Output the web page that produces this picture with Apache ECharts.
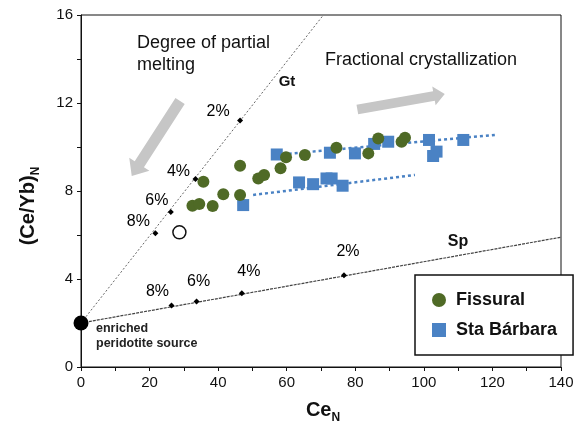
<!DOCTYPE html>
<html>
<head>
<meta charset="utf-8">
<script src="https://cdn.jsdelivr.net/npm/echarts@6/dist/echarts.min.js"></script>
<style>
html, body { margin: 0; padding: 0; background: #fff; }
#chart { width: 580px; height: 425px; }
</style>
</head>
<body>
<div id="chart"></div>
<script>
// Melting curves from the enriched peridotite source
const gtCurve = [[0, 2], [70.7, 16]];
const spCurve = [[0, 2], [140, 5.9]];
const gtMelting = [[46.4, 11.2], [33.4, 8.55], [26.2, 7.05], [21.7, 6.08]];
const spMelting = [[76.7, 4.17], [46.9, 3.35], [33.7, 2.98], [26.4, 2.8]];
const meltingLabels = ['2%', '4%', '6%', '8%'];
const sourcePoint = [[0, 2]];
const openPoint = [[28.7, 6.12]];

// Sample analyses (Ce_N, (Ce/Yb)_N)
const fissural = [
  [32.5, 7.33], [34.5, 7.41], [35.7, 8.42], [38.4, 7.32], [41.5, 7.85],
  [46.4, 7.82], [46.4, 9.15], [51.7, 8.57], [53.4, 8.73], [58.2, 9.03],
  [59.8, 9.53], [65.3, 9.64], [74.5, 9.97], [83.8, 9.71], [86.7, 10.39],
  [93.5, 10.24], [94.5, 10.42]
];
const staBarbara = [
  [57.1, 9.66], [72.6, 9.74], [79.9, 9.71], [85.5, 10.14], [89.6, 10.24],
  [101.5, 10.32], [111.5, 10.32], [103.7, 9.79], [102.7, 9.59],
  [47.3, 7.36], [63.6, 8.39], [67.7, 8.31], [71.6, 8.57], [73.1, 8.57], [76.3, 8.24]
];

// Fractionation trends of the Sta Bárbara groups
const trendUpper = [[57.1, 9.64], [120.7, 10.55]];
const trendLower = [[50.2, 7.82], [97.4, 8.73]];

// Process arrows (tail, tip) in data units
const arrowMelting = [[28.9, 12.09], [14.8, 8.68]];
const arrowFractional = [[80.6, 11.7], [106.1, 12.41]];

// Axis ticks
const xTicks = { min: 0, max: 140, step: 20 };
const yTicks = { min: 0, max: 16, step: 4 };

// Label placement around the melting-degree marks (pixels)
const gtLabelOffsets = [[-22, -9], [-17, -7], [-14, -11], [-17, -12]];
const spLabelOffsets = [[4, -24], [7, -22], [2, -20], [-14, -14]];

const FONT = '"Liberation Sans", Arial, sans-serif';
const GREEN = '#4f6a26';
const BLUE = '#4a82c4';

const chart = echarts.init(document.getElementById('chart'), null, { renderer: 'canvas' });

function markData(points, offsets) {
  return points.map((p, i) => ({
    value: p,
    label: { formatter: meltingLabels[i], offset: offsets[i] }
  }));
}

const markLabel = {
  show: true,
  position: 'inside',
  color: '#000',
  fontFamily: FONT,
  fontSize: 16
};

chart.setOption({
  animation: false,
  grid: {
    left: 81, right: 19, top: 15, bottom: 58,
    show: true, borderColor: '#111', borderWidth: 1, backgroundColor: 'transparent'
  },
  xAxis: {
    type: 'value', min: xTicks.min, max: xTicks.max, interval: xTicks.step,
    axisLine: { show: true, onZero: false, lineStyle: { color: '#111', width: 1 } },
    axisTick: { show: true, length: 4, lineStyle: { color: '#111' } },
    minorTick: { show: true, splitNumber: 2, length: 4, lineStyle: { color: '#111' } },
    splitLine: { show: false },
    axisLabel: { color: '#111', fontFamily: FONT, fontSize: 15, margin: 8 }
  },
  yAxis: {
    type: 'value', min: yTicks.min, max: yTicks.max, interval: yTicks.step,
    axisLine: { show: true, onZero: false, lineStyle: { color: '#111', width: 1 } },
    axisTick: { show: true, length: 4, lineStyle: { color: '#111' } },
    minorTick: { show: true, splitNumber: 2, length: 4, lineStyle: { color: '#111' } },
    splitLine: { show: false },
    axisLabel: { color: '#111', fontFamily: FONT, fontSize: 15, margin: 8 }
  },
  legend: {
    data: [
      { name: 'Fissural', icon: 'circle' },
      { name: 'Sta Bárbara', icon: 'rect' }
    ],
    orient: 'vertical',
    left: 415, top: 275,
    padding: [16, 16, 16, 17],
    itemWidth: 14, itemHeight: 14, itemGap: 12,
    borderColor: '#111', borderWidth: 1.5, backgroundColor: '#fff',
    textStyle: { color: '#111', fontFamily: FONT, fontSize: 18, fontWeight: 'bold', padding: [0, 0, 0, 5] }
  },
  series: [
    {
      name: 'Gt', type: 'line', data: gtCurve, symbol: 'none', silent: true, z: 1,
      lineStyle: { color: '#666', width: 1, type: [2, 2] }
    },
    {
      name: 'Sp', type: 'line', data: spCurve, symbol: 'none', silent: true, z: 1,
      lineStyle: { color: '#444', width: 1.2, type: [3, 1] }
    },
    {
      name: 'trendUpper', type: 'line', data: trendUpper, symbol: 'none', silent: true, z: 2,
      lineStyle: { color: BLUE, width: 2.5, type: [3, 3] }
    },
    {
      name: 'trendLower', type: 'line', data: trendLower, symbol: 'none', silent: true, z: 2,
      lineStyle: { color: BLUE, width: 2.5, type: [3, 3] }
    },
    {
      name: 'gtMarks', type: 'scatter', data: markData(gtMelting, gtLabelOffsets),
      symbol: 'diamond', symbolSize: 6, itemStyle: { color: '#000', opacity: 1 }, label: markLabel, z: 3
    },
    {
      name: 'spMarks', type: 'scatter', data: markData(spMelting, spLabelOffsets),
      symbol: 'diamond', symbolSize: 6, itemStyle: { color: '#000', opacity: 1 }, label: markLabel, z: 3
    },
    {
      name: 'Sta Bárbara', type: 'scatter', data: staBarbara,
      symbol: 'rect', symbolSize: 12, itemStyle: { color: BLUE, opacity: 1 }, z: 4
    },
    {
      name: 'Fissural', type: 'scatter', data: fissural,
      symbol: 'circle', symbolSize: 12, itemStyle: { color: GREEN, opacity: 1 }, z: 5
    },
    {
      name: 'source', type: 'scatter', data: sourcePoint, clip: false,
      symbol: 'circle', symbolSize: 15, itemStyle: { color: '#000', opacity: 1 }, z: 6
    },
    {
      name: 'open', type: 'scatter', data: openPoint,
      symbol: 'circle', symbolSize: 13,
      itemStyle: { color: '#fff', borderColor: '#111', borderWidth: 1.5, opacity: 1 }, z: 6
    }
  ]
});

// Thick process arrows, placed through the grid's coordinate system
function arrowShape(pair, bodyHalf, headHalf, headLen) {
  const s = chart.convertToPixel({ gridIndex: 0 }, pair[0]);
  const t = chart.convertToPixel({ gridIndex: 0 }, pair[1]);
  const dx = t[0] - s[0], dy = t[1] - s[1];
  const len = Math.sqrt(dx * dx + dy * dy);
  const ux = dx / len, uy = dy / len;
  const nx = -uy, ny = ux;
  const bx = t[0] - ux * headLen, by = t[1] - uy * headLen;
  return [
    [s[0] + nx * bodyHalf, s[1] + ny * bodyHalf],
    [bx + nx * bodyHalf, by + ny * bodyHalf],
    [bx + nx * headHalf, by + ny * headHalf],
    [t[0], t[1]],
    [bx - nx * headHalf, by - ny * headHalf],
    [bx - nx * bodyHalf, by - ny * bodyHalf],
    [s[0] - nx * bodyHalf, s[1] - ny * bodyHalf]
  ];
}

const textStyle = (extra) => Object.assign({ fill: '#111', font: '18px ' + FONT }, extra);

chart.setOption({
  graphic: [
    { type: 'polygon', z: 0, shape: { points: arrowShape(arrowMelting, 5.5, 12, 14) }, style: { fill: '#c6c6c6' } },
    { type: 'polygon', z: 0, shape: { points: arrowShape(arrowFractional, 4.8, 9.5, 11) }, style: { fill: '#c6c6c6' } },
    { type: 'text', x: 137, y: 43, style: textStyle({ text: 'Degree of partial', verticalAlign: 'middle' }) },
    { type: 'text', x: 137, y: 65, style: textStyle({ text: 'melting', verticalAlign: 'middle' }) },
    { type: 'text', x: 325, y: 60, style: textStyle({ text: 'Fractional crystallization', verticalAlign: 'middle' }) },
    { type: 'text', x: 287, y: 82, style: textStyle({ text: 'Gt', font: 'bold 15px ' + FONT, align: 'center', verticalAlign: 'middle' }) },
    { type: 'text', x: 458, y: 242, style: textStyle({ text: 'Sp', font: 'bold 16px ' + FONT, align: 'center', verticalAlign: 'middle' }) },
    { type: 'text', x: 96, y: 329, style: textStyle({ text: 'enriched', font: 'bold 12.5px ' + FONT, fill: '#222', verticalAlign: 'middle' }) },
    { type: 'text', x: 96, y: 344, style: textStyle({ text: 'peridotite source', font: 'bold 12.5px ' + FONT, fill: '#222', verticalAlign: 'middle' }) },
    {
      type: 'text', x: 323, y: 410,
      style: {
        text: '{m|Ce}{s|N}', align: 'center', verticalAlign: 'middle',
        rich: {
          m: { fontFamily: FONT, fontSize: 20, fontWeight: 'bold', fill: '#111', verticalAlign: 'bottom' },
          s: { fontFamily: FONT, fontSize: 12, fontWeight: 'bold', fill: '#111', verticalAlign: 'bottom', padding: [0, 0, -4, 0] }
        }
      }
    },
    {
      type: 'text', x: 28, y: 206, rotation: Math.PI / 2,
      style: {
        text: '{m|(Ce/Yb)}{s|N}', align: 'center', verticalAlign: 'middle',
        rich: {
          m: { fontFamily: FONT, fontSize: 20, fontWeight: 'bold', fill: '#111', verticalAlign: 'bottom' },
          s: { fontFamily: FONT, fontSize: 12, fontWeight: 'bold', fill: '#111', verticalAlign: 'bottom', padding: [0, 0, -4, 0] }
        }
      }
    }
  ]
});
</script>
</body>
</html>
